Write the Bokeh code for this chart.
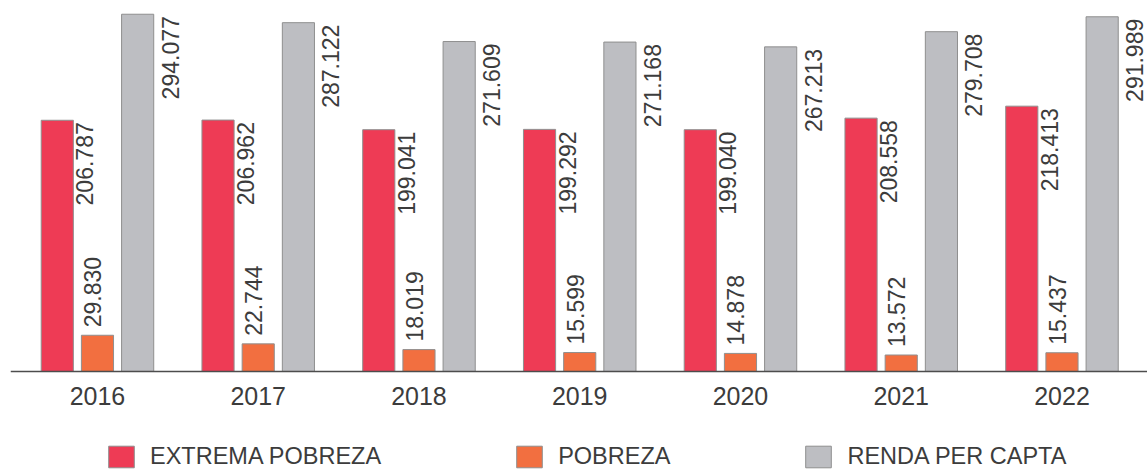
import math
from bokeh.plotting import figure
from bokeh.models import ColumnDataSource, Range1d, FixedTicker, Legend, LegendItem
from bokeh.transform import dodge
from bokeh.core.properties import value
from bokeh.embed import file_html
from bokeh.resources import INLINE

years = ["2016", "2017", "2018", "2019", "2020", "2021", "2022"]
extrema = [206.787, 206.962, 199.041, 199.292, 199.040, 208.558, 218.413]
pobreza = [29.830, 22.744, 18.019, 15.599, 14.878, 13.572, 15.437]
renda = [294.077, 287.122, 271.609, 271.168, 267.213, 279.708, 291.989]
series_names = ["EXTREMA POBREZA", "POBREZA", "RENDA PER CAPTA"]

RED = "#EE3B55"
ORANGE = "#F26F40"
GRAY = "#BDBEC2"
EDGE = "#8f8f8f"
TXT = "#3c3c3c"
FONT = value("Liberation Sans")

src = ColumnDataSource(dict(
    x=list(range(len(years))),
    extrema=extrema,
    pobreza=pobreza,
    renda=renda,
    ext_lab=[f"{v:.3f}" for v in extrema],
    pob_lab=[f"{v:.3f}" for v in pobreza],
    ren_lab=[f"{v:.3f}" for v in renda],
))

p = figure(
    frame_width=1137, frame_height=462,
    min_border_left=10, min_border_right=0, min_border_top=8, min_border_bottom=0,
    x_range=Range1d(-0.541, 6.532), y_range=Range1d(-81.5, 298.8),
    y_axis_location=None,
    output_backend="svg", toolbar_location=None,
)
p.outline_line_color = None
p.xgrid.grid_line_color = None
p.ygrid.grid_line_color = None

W = 0.2
r1 = p.vbar(x=dodge("x", -0.25, range=p.x_range), top="extrema", width=W, source=src,
            fill_color=RED, line_color=EDGE, line_width=1)
r2 = p.vbar(x=dodge("x", 0.0, range=p.x_range), top="pobreza", width=W, source=src,
            fill_color=ORANGE, line_color=EDGE, line_width=1)
r3 = p.vbar(x=dodge("x", 0.25, range=p.x_range), top="renda", width=W, source=src,
            fill_color=GRAY, line_color=EDGE, line_width=1)

common = dict(angle=math.pi / 2, text_font=FONT, text_font_size="23px",
              text_color=TXT, source=src, text_baseline="top")
p.text(x=dodge("x", -0.15, range=p.x_range), y="extrema", text="ext_lab",
       text_align="right", x_offset=3, y_offset=2, **common)
p.text(x=dodge("x", -0.1, range=p.x_range), y="pobreza", text="pob_lab",
       text_align="left", x_offset=3, y_offset=-8, **common)
p.text(x=dodge("x", 0.35, range=p.x_range), y="renda", text="ren_lab",
       text_align="right", x_offset=8, y_offset=2, **common)

ax = p.xaxis[0]
ax.fixed_location = 0
ax.ticker = FixedTicker(ticks=list(range(len(years))))
ax.major_label_overrides = {i: y for i, y in enumerate(years)}
ax.major_tick_out = 0
ax.major_tick_in = 0
ax.minor_tick_out = 0
ax.minor_tick_in = 0
ax.axis_line_color = "#4d4d4d"
ax.axis_line_width = 1.5
ax.major_label_text_font = "Liberation Sans"
ax.major_label_text_font_size = "25px"
ax.major_label_text_color = TXT
ax.major_label_standoff = 16

legend = Legend(
    items=[LegendItem(label=series_names[0], renderers=[r1]),
           LegendItem(label=series_names[1], renderers=[r2]),
           LegendItem(label=series_names[2], renderers=[r3])],
    orientation="horizontal", location=(95, 0),
    glyph_width=32, glyph_height=27, label_standoff=13, spacing=132,
    padding=0, margin=0, border_line_color=None, background_fill_alpha=0,
    label_text_font="Liberation Sans", label_text_font_size="23.5px",
    label_text_color=TXT,
)
p.add_layout(legend, "center")

open("out.html", "w").write(file_html(p, INLINE))
